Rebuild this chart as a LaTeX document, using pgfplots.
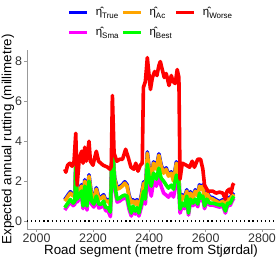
\documentclass[border=0pt]{standalone}
\usepackage{fontspec}
\setmainfont{Liberation Sans}
\usepackage{pgfplots}
\pgfplotsset{compat=1.18}
\usepackage{pgfplotstable}
\definecolor{cTrue}{HTML}{0000FF}
\definecolor{cAc}{HTML}{FFA500}
\definecolor{cWorse}{HTML}{FF0000}
\definecolor{cSma}{HTML}{FF00FF}
\definecolor{cBest}{HTML}{00FF00}
\newcommand\lab[1]{η̂\raisebox{-0.28em}{\fontsize{8}{8}\selectfont #1}}
\pgfplotstableread{
x true ac sma best
2100 1.07 1.00 0.55 0.67
2112 1.32 1.25 0.80 0.92
2120 1.47 1.40 0.95 1.08
2130 1.32 1.25 0.77 0.90
2136 1.37 1.30 0.85 1.00
2139 2.80 2.75 2.50 2.70
2144 1.57 1.50 0.95 1.10
2153 1.57 1.50 1.15 1.30
2159 1.82 1.75 1.35 1.50
2165 1.17 1.10 0.62 0.75
2171 2.07 2.00 1.60 1.75
2179 1.17 1.10 0.55 0.75
2186 2.32 2.25 1.85 2.00
2195 1.32 1.25 0.85 1.00
2203 1.17 1.10 0.70 0.85
2212 1.67 1.60 1.10 1.25
2221 1.17 1.10 0.65 0.85
2230 1.22 1.15 0.70 0.85
2238 1.32 1.25 0.85 1.00
2245 1.07 1.00 0.52 0.67
2254 1.07 1.00 0.50 0.67
2262 0.87 0.80 0.22 0.45
2269 3.85 3.80 3.70 4.00
2277 2.17 2.10 1.60 1.80
2286 1.67 1.60 0.95 1.10
2295 1.72 1.65 1.00 1.15
2304 1.82 1.75 1.10 1.25
2313 1.97 1.90 1.15 1.30
2321 1.82 1.75 1.10 1.25
2328 1.32 1.25 0.60 0.75
2336 0.97 0.90 0.25 0.40
2342 1.07 1.00 0.55 0.75
2350 0.92 0.85 0.35 0.50
2356 1.07 1.00 0.50 0.67
2363 0.74 0.67 0.25 0.40
2372 1.32 1.25 0.70 0.90
2380 1.97 1.90 1.25 1.50
2386 1.37 1.30 0.85 1.10
2393 3.47 3.40 2.50 2.85
2401 2.47 2.40 1.60 2.00
2407 2.07 2.00 1.25 1.75
2415 2.97 2.90 2.00 2.40
2425 2.67 2.60 1.75 2.10
2434 3.37 3.30 2.25 2.65
2442 2.82 2.75 1.75 2.15
2451 2.47 2.40 1.40 2.00
2460 2.67 2.60 1.30 1.80
2468 2.32 2.25 1.20 1.65
2478 2.47 2.40 1.40 1.80
2486 2.07 2.00 1.20 1.60
2496 2.97 2.90 1.95 2.30
2504 2.67 2.60 1.80 2.10
2509 0.82 0.75 0.40 0.60
2517 1.32 1.25 0.75 0.90
2525 1.17 1.10 0.62 0.75
2533 1.57 1.50 1.10 1.25
2539 0.97 0.90 0.30 0.40
2546 1.47 1.40 0.95 1.10
2555 1.22 1.15 0.77 0.90
2563 1.57 1.50 0.97 1.10
2572 1.32 1.25 0.72 0.85
2578 1.82 1.75 1.27 1.40
2584 1.67 1.60 1.02 1.15
2590 1.82 1.75 1.12 1.25
2596 1.17 1.10 0.62 0.75
2604 1.47 1.40 0.97 1.10
2614 1.22 1.15 0.80 0.90
2625 1.17 1.10 0.80 0.90
2637 1.07 1.00 0.75 0.85
2649 0.97 0.90 0.70 0.80
2661 1.07 1.00 0.75 0.85
2670 0.74 0.67 0.40 0.50
2678 1.17 1.10 0.80 0.90
2687 1.17 1.10 0.78 0.88
2694 1.32 1.25 1.00 1.10
2700 1.42 1.35 1.15 1.25
}\lowtab
\pgfplotstableread{
x worse
2100 2.60
2104 2.45
2110 2.80
2118 2.90
2126 2.75
2133 3.00
2139 4.40
2144 1.80
2150 2.90
2155 3.30
2160 3.50
2165 2.90
2171 3.70
2176 3.00
2181 3.40
2186 4.00
2191 3.00
2200 2.80
2205 3.10
2212 3.50
2220 3.00
2228 2.90
2236 2.80
2244 2.75
2252 2.70
2260 2.60
2265 2.75
2269 6.30
2275 3.40
2285 3.00
2295 3.10
2305 3.10
2316 3.60
2325 3.20
2335 2.70
2345 2.60
2352 2.90
2360 2.50
2368 2.80
2375 2.90
2379 6.70
2386 7.00
2393 8.20
2404 6.60
2411 7.20
2419 7.50
2427 7.30
2434 7.80
2439 8.00
2446 7.60
2453 7.20
2460 7.40
2470 6.80
2478 7.30
2484 7.00
2492 6.90
2499 7.60
2505 7.20
2509 2.10
2517 2.90
2531 2.80
2543 2.70
2552 3.00
2560 2.70
2572 3.10
2582 3.10
2590 2.60
2596 1.80
2608 1.50
2625 1.50
2637 1.40
2649 1.45
2661 1.40
2670 1.10
2676 1.50
2684 1.60
2690 1.40
2696 1.80
2700 1.90
}\redtab
\begin{document}
\begin{tikzpicture}
\begin{axis}[
  scale only axis,
  width=248bp, height=179bp,
  xmin=1966, xmax=2846, ymin=-0.4, ymax=8.58,
  axis lines*=left,
  axis line style={gray!80, line width=0.6bp},
  tick style={gray!80, line width=0.6bp},
  tick align=outside,
  major tick length=2.5bp,
  xtick={2000,2200,...,2800},
  ytick={0,2,4,6,8},
  /pgf/number format/assume math mode=true,
  /pgf/number format/1000 sep={},
  ticklabel style={font=\fontsize{12.5}{13}\selectfont, text=black!80},
  xticklabel style={yshift=1bp},
  yticklabel style={xshift=1bp},
  xlabel={Road segment (metre from Stjørdal)},
  ylabel={Expected annual rutting (millimetre)},
  label style={font=\fontsize{13.4}{14}\selectfont},
  xlabel style={yshift=5bp},
  ylabel style={yshift=-6bp},
  legend columns=3,
  legend style={draw=none, fill=none, at={(0.5,1.06)}, anchor=south,
    font=\fontsize{11.5}{12}\selectfont, inner sep=0pt,
    /tikz/every even column/.append style={column sep=1bp},
    /tikz/every odd column/.append style={column sep=5bp},
    row sep=6bp},
  legend cell align=left,
  legend image code/.code={\draw[#1, line width=3bp] (0bp,0bp) -- (18bp,0bp);},
  every axis plot/.append style={line width=3.6bp, line join=round},
]
\addplot[black, line width=1.2bp, dash pattern=on 1.2bp off 2.9bp, forget plot] coordinates {(1966,0) (2846,0)};
\addplot[cTrue, forget plot] table[x=x, y=true] {\lowtab};
\addplot[cAc, forget plot] table[x=x, y=ac] {\lowtab};
\addplot[cSma, forget plot] table[x=x, y=sma] {\lowtab};
\addplot[cBest, forget plot] table[x=x, y=best] {\lowtab};
\addplot[cWorse, forget plot] table[x=x, y=worse] {\redtab};
\addlegendimage{cTrue}\addlegendentry{\lab{True}}
\addlegendimage{cAc}\addlegendentry{\lab{Ac}}
\addlegendimage{cWorse}\addlegendentry{\lab{Worse}}
\addlegendimage{cSma}\addlegendentry{\lab{Sma}}
\addlegendimage{cBest}\addlegendentry{\lab{Best}}
\end{axis}
\pgfresetboundingbox
\path (current axis.south west) ++(-27bp,-33bp) rectangle ++(278bp,262bp);
\end{tikzpicture}
\end{document}
